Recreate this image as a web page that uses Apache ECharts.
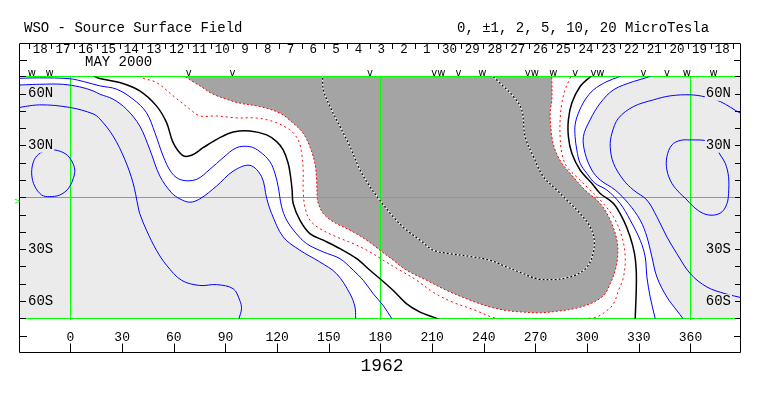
<!DOCTYPE html>
<html><head><meta charset="utf-8">
<script src="https://cdn.jsdelivr.net/npm/echarts@6.0.0/dist/echarts.min.js"></script>
<style>html,body{margin:0;padding:0;background:#fff}#c{width:763px;height:396px}</style>
</head><body><div id="c"></div>
<script>
// ---------- data (longitude, latitude) ----------
var lonTicks = [0,30,60,90,120,150,180,210,240,270,300,330,360];
var latLabelVals = [-60,-30,30,60];
var gridLon = [0,180,360];
var gridLat = [70,0,-70];
var dayLabels = ["18","17","16","15","14","13","12","11","10","9","8","7","6","5","4","3","2","1","30","29","28","27","26","25","24","23","22","21","20","19","18"];
var dayTickStart = -24.1, dayTickStep = 13.2;
var markerLon = [-22.4,-12.1,68.7,94.1,173.9,213.6,225.2,239.2,267.9,280.4,293.0,306.0,332.7,346.3,357.9,373.4];
var markerGlyph = ["w","w","v","v","v","vw","v","w","vw","w","v","vw","v","v","w","w"];

// +1 microtesla
var pos1Left = [[-31,68.9],[-17.9,69.2],[-0.4,68.7],[8.3,66.9],[17.0,64.6],[26.7,62.7],[36.3,56.9],[44.1,49.1],[49.0,37.5],[53.8,24.0],[58.7,14.3],[64.5,10.1],[73.2,10.5],[80.9,16.3],[88.6,23.0],[96.4,28.8],[104.2,29.4],[110.0,26.5],[115.8,20.7],[118.7,14.0],[120.6,6.2],[122.6,-5.4],[125.5,-13.1],[130.3,-19.9],[137.1,-26.7],[146.8,-31.5],[156.5,-35.4],[164.2,-42.1],[170.0,-47.9],[175.8,-55.7],[181.6,-62.5],[186.5,-70.0],[187.8,-72.3]];
var pos1Right = [[322.1,71.6],[318.2,69.7],[311.5,67.1],[303.7,62.3],[298.8,56.5],[294.9,48.8],[293.0,42.0],[293.0,35.2],[294.0,27.5],[295.9,19.8],[299.8,14.0],[304.6,8.2],[311.5,4.3],[319.2,-3.5],[325.0,-13.1],[330.8,-24.7],[333.7,-34.4],[334.7,-46.0],[336.6,-57.6],[339.5,-70.0],[340.1,-72.3]];
// +2
var pos2Left = [[-31,65.0],[-17.9,65.5],[-4.5,65.5],[5.4,64.0],[13.1,61.7],[17.0,59.8],[24.7,56.9],[32.5,51.1],[40.2,41.4],[46.0,27.9],[51.9,12.4],[58.7,2.7],[63.5,-0.8],[69.3,-2.7],[75.1,-0.8],[84.8,6.6],[94.5,15.3],[104.2,18.6],[111.0,12.0],[113.9,-0.4],[116.8,-9.3],[123.5,-22.8],[133.2,-30.5],[144.8,-37.3],[154.5,-44.1],[162.3,-55.7],[165.2,-63.4],[165.6,-70.0],[165.7,-72.3]];
var pos2Right = [[339.5,71.6],[335.6,69.7],[326.9,67.1],[315.3,62.3],[307.6,54.6],[301.7,44.9],[297.8,35.2],[298.8,25.6],[302.7,15.9],[307.6,10.1],[316.3,4.3],[324.0,-3.5],[330.8,-13.1],[334.7,-22.8],[337.6,-34.4],[340.5,-46.0],[346.3,-57.6],[352.1,-65.4],[355.6,-70.0],[357.0,-71.7]];
// +5
var pos5Left = [[-31,51.8],[-17.9,53.6],[-0.4,52.1],[13.1,48.4],[17.0,45.5],[24.7,35.6],[31.5,22.1],[36.3,8.5],[39.2,-5.0],[40.2,-9.3],[44.1,-18.9],[49.9,-30.5],[55.8,-39.2],[64.5,-47.9],[75.1,-50.9],[84.8,-50.4],[94.5,-52.8],[98.3,-59.6],[99.3,-64.4],[97.9,-70.0],[97.7,-72.3]];
var pos5Right = [[391.8,47.8],[388.9,48.8],[377.3,55.5],[368.6,58.2],[359.9,59.4],[348.2,58.8],[338.5,56.5],[326.9,52.6],[318.2,45.9],[314.4,37.2],[313.4,29.4],[315.3,19.8],[321.1,10.1],[326.9,4.3],[334.7,-1.5],[340.5,-11.2],[346.3,-22.8],[352.1,-32.5],[359.9,-44.1],[369.6,-51.8],[380.4,-55.7],[391.8,-58.4]];
// +10 (closed)
var pos10Left = [[-9.2,27.5],[-2.8,25.2],[0.7,21.1],[2.5,15.9],[1.3,10.1],[-1.6,4.8],[-6.3,1.4],[-12.1,0.5],[-16.7,1.4],[-20.8,6.6],[-22.5,13.0],[-21.9,19.4],[-19.6,24.0],[-15.0,26.9]];
var pos10Right = [[359.9,33.3],[369.6,32.7],[374.4,29.2],[377.3,24.6],[380.2,19.8],[382.1,12.0],[382.1,2.3],[381.2,-3.5],[378.3,-8.3],[373.4,-10.2],[367.6,-9.3],[361.8,-5.4],[357.0,-0.4],[354.0,2.3],[349.2,8.2],[346.3,15.9],[346.3,23.6],[349.2,30.4],[354.0,33.0]];
// 0 (neutral line)
var zeroLeft = [[12.9,71.6],[14.1,70.0],[17.0,68.8],[28.6,66.5],[40.2,61.7],[49.9,53.0],[55.8,43.3],[59.6,31.7],[65.1,24.4],[70.3,24.4],[77.0,28.8],[86.7,34.6],[94.5,37.9],[104.2,38.5],[113.9,36.2],[119.7,32.3],[123.5,27.5],[126.4,19.8],[127.8,12.0],[128.7,4.3],[129.3,-3.5],[133.2,-13.1],[139.0,-20.9],[146.8,-24.7],[156.5,-29.6],[166.2,-35.4],[173.9,-42.1],[179.7,-47.0],[187.4,-53.8],[195.2,-61.5],[203.0,-66.3],[210.7,-69.2],[212.7,-70.0],[214.6,-70.6]];
var zeroRight = [[304.1,71.6],[301.7,69.7],[295.9,64.2],[291.1,54.6],[289.1,44.9],[289.1,35.2],[291.1,25.6],[295.9,15.9],[302.7,8.2],[307.6,2.3],[315.3,-3.5],[321.1,-13.1],[325.0,-22.8],[327.5,-32.5],[328.5,-42.1],[328.5,-53.8],[327.9,-70.0],[327.9,-72.3]];
// -1
var neg1Left = [[40.2,71.0],[41.2,69.4],[49.9,66.5],[59.6,58.8],[69.3,51.1],[75.1,47.2],[84.8,47.2],[94.5,46.2],[98.3,46.0],[108.1,46.0],[117.7,43.9],[127.4,39.1],[132.2,33.3],[134.2,25.6],[135.1,15.9],[135.1,4.3],[136.1,-5.4],[139.0,-13.1],[144.8,-18.0],[154.5,-22.8],[164.2,-26.7],[173.9,-31.5],[181.6,-36.3],[191.3,-42.1],[201.0,-47.9],[210.7,-54.9],[222.3,-60.7],[233.9,-64.8],[243.6,-68.9],[247.7,-70.3],[248.9,-71.7]];
var neg1Right = [[298.8,-71.7],[300.0,-70.2],[305.6,-69.2],[311.5,-65.4],[315.3,-61.5],[318.2,-53.8],[321.1,-46.0],[322.1,-34.4],[320.2,-22.8],[315.3,-11.2],[307.6,-1.5],[301.7,4.3],[295.9,10.1],[288.2,17.8],[285.3,25.6],[284.3,35.2],[284.3,44.9],[285.3,54.6],[287.2,62.3],[290.1,69.1],[291.3,71.6]];
// -2 (edge of shaded negative region)
var neg2 = [[65.2,71.5],[66.4,70.0],[75.1,64.6],[82.8,59.8],[90.6,56.9],[98.3,54.6],[110.0,52.6],[121.6,48.8],[129.3,43.0],[135.1,37.2],[139.0,29.4],[141.9,19.8],[142.9,10.1],[143.3,-0.4],[143.9,-3.5],[146.8,-9.3],[152.6,-14.1],[162.3,-18.9],[172.0,-24.7],[179.7,-30.5],[187.4,-36.3],[195.2,-42.1],[206.8,-47.9],[218.5,-53.8],[233.9,-60.1],[243.6,-63.3],[253.3,-65.4],[263.0,-66.3],[272.7,-66.7],[282.4,-65.8],[292.0,-64.4],[301.7,-61.5],[309.5,-56.7],[313.4,-49.9],[316.3,-42.1],[317.7,-34.4],[317.3,-24.7],[313.4,-13.1],[307.6,-3.5],[298.8,4.3],[290.1,14.0],[285.3,19.8],[281.4,27.5],[279.5,35.2],[278.5,48.8],[279.5,56.5],[279.5,70.0],[279.5,71.6]];
// -5
var neg5 = [[146.3,71.6],[146.4,70.0],[146.8,62.3],[150.7,52.6],[156.5,41.0],[162.3,29.4],[168.1,15.9],[173.9,6.2],[178.7,-0.4],[187.4,-11.2],[195.2,-18.9],[203.0,-24.7],[210.7,-30.5],[220.4,-32.5],[233.9,-34.4],[243.6,-36.3],[253.3,-40.2],[263.0,-44.1],[270.8,-47.0],[280.4,-47.5],[288.2,-46.4],[294.0,-44.5],[299.8,-40.4],[303.2,-33.4],[304.1,-24.7],[301.7,-17.0],[295.9,-9.3],[288.2,-1.5],[282.4,4.3],[274.6,12.0],[268.8,23.6],[264.0,35.2],[262.0,50.7],[257.2,58.4],[249.4,66.2],[245.4,70.0],[244.2,71.6]];

// ---------- styling ----------
var MONO = '"Liberation Mono","DejaVu Sans Mono",monospace';
var LIGHT = '#ebebeb', DARK = '#a4a4a4', BLUE = '#0000ff', RED = '#ff0000', GREEN = '#00ff00';
var SMOOTH = 0.35;
var LON_MIN = -29.32, LON_MAX = 389.33, LAT_MIN = -70, LAT_MAX = 70;

function pathSeries(pts, closed, layers, z) {
  return {
    type: 'custom', coordinateSystem: 'cartesian2d', xAxisIndex: 0, yAxisIndex: 0,
    clip: true, silent: true, z: z, data: pts, animation: false,
    renderItem: function (params, api) {
      if (params.dataIndex !== 0) return null;
      var P = pts.map(function (p) { return api.coord(p); });
      return {
        type: 'group',
        children: layers.map(function (L) {
          return {
            type: closed ? 'polygon' : 'polyline',
            shape: { points: P, smooth: SMOOTH },
            style: { fill: L.fill || 'none', stroke: L.stroke || 'none', lineWidth: L.width || 1, lineDash: L.dash || null }
          };
        })
      };
    }
  };
}
// reference grid lines (green), drawn as 1px filled strips at the axis positions
function gridLineSeries(values, vertical) {
  return {
    type: 'custom', coordinateSystem: 'cartesian2d', xAxisIndex: 0, yAxisIndex: 0,
    silent: true, z: 2, animation: false,
    data: values.map(function (v) { return vertical ? [v, 0] : [0, v]; }),
    renderItem: function (params, api) {
      var v = values[params.dataIndex], a, b;
      if (vertical) {
        a = api.coord([v, LAT_MAX]); b = api.coord([v, LAT_MIN]);
        return { type: 'rect', shape: { x: Math.floor(a[0]), y: Math.round(a[1]), width: 1, height: Math.round(b[1] - a[1]) + 1 }, style: { fill: GREEN } };
      }
      a = api.coord([LON_MIN, v]); b = api.coord([LON_MAX, v]);
      return { type: 'rect', shape: { x: Math.round(a[0]), y: Math.floor(a[1]), width: Math.round(b[0] - a[0]), height: 1 }, style: { fill: GREEN } };
    }
  };
}
var solidBlue = [{ stroke: BLUE, width: 1 }];
var solidBlack = [{ stroke: '#000', width: 1.5 }];
var redDot = [{ stroke: RED, width: 1, dash: [2, 3] }];
var redEdge = [{ stroke: RED, width: 1, dash: [2, 2] }];
var bwDash = [{ stroke: '#fff', width: 1.2 }, { stroke: '#000', width: 1.2, dash: [2, 2] }];

var dayBounds = dayLabels.concat(['']).map(function (_, i) { return +(dayTickStart + i * dayTickStep).toFixed(2); });
var dayCenters = dayLabels.map(function (_, i) { return +((dayBounds[i] + dayBounds[i + 1]) / 2).toFixed(2); });

var lightLeftPoly = pos2Left.concat([[165.8, -80], [-40, -80], [-40, 65]]);
var lightRightPoly = pos2Right.concat([[357.5, -80], [400, -80], [400, 80], [339.5, 80]]);
var darkPoly = neg2.concat([[279.5, 80], [65.2, 80]]);

var latFmt = function (v) { return v > 0 ? v + 'N' : (-v) + 'S'; };
var hiddenLine = { show: false, onZero: false };

var chart = echarts.init(document.getElementById('c'), null, { renderer: 'canvas' });
var option = {
  animation: false,
  backgroundColor: '#fff',
  grid: { left: 20, top: 76.5, width: 721, height: 242, containLabel: false },
  xAxis: [
    { type: 'value', min: LON_MIN, max: LON_MAX, position: 'bottom', offset: 34, z: 10,
      axisLine: hiddenLine, splitLine: { show: false },
      axisTick: { show: true, inside: true, length: 9, customValues: lonTicks, lineStyle: { color: '#000' } },
      axisLabel: { show: true, inside: true, margin: 8, customValues: lonTicks, fontFamily: MONO, fontSize: 13, color: '#000' } },
    { type: 'value', min: LON_MIN, max: LON_MAX, position: 'top', offset: 33.5, z: 10,
      axisLine: hiddenLine, splitLine: { show: false },
      axisTick: { show: true, inside: true, length: 6, customValues: dayBounds, lineStyle: { color: '#000' } },
      axisLabel: { show: true, inside: true, margin: 0, customValues: dayCenters, fontFamily: MONO, fontSize: 12.5, color: '#000',
        formatter: function (v) {
          for (var i = 0; i < dayCenters.length; i++) if (Math.abs(dayCenters[i] - v) < 0.05) return dayLabels[i];
          return '';
        } } }
  ],
  yAxis: [
    { type: 'value', min: LAT_MIN, max: LAT_MAX, interval: 10, position: 'left', z: 10,
      axisLine: hiddenLine, splitLine: { show: false },
      axisTick: { show: true, inside: true, length: 6, lineStyle: { color: '#000' } },
      axisLabel: { inside: true, margin: 7, customValues: latLabelVals, formatter: latFmt, fontFamily: MONO, fontSize: 14, color: '#000', backgroundColor: LIGHT, padding: [0, 1, 0, 1] } },
    { type: 'value', min: LAT_MIN, max: LAT_MAX, interval: 10, position: 'right', z: 10,
      axisLine: hiddenLine, splitLine: { show: false },
      axisTick: { show: true, inside: true, length: 6, lineStyle: { color: '#000' } },
      axisLabel: { inside: true, margin: 9, customValues: latLabelVals, formatter: latFmt, fontFamily: MONO, fontSize: 14, color: '#000', backgroundColor: LIGHT, padding: [0, 1, 0, 1] } }
  ],
  series: [
    pathSeries(lightLeftPoly, true, [{ fill: LIGHT }], 1),
    pathSeries(lightRightPoly, true, [{ fill: LIGHT }], 1),
    pathSeries(darkPoly, true, [{ fill: DARK }], 1),
    gridLineSeries(gridLon, true),
    gridLineSeries(gridLat, false),
    pathSeries(pos1Left, false, solidBlue, 3),
    pathSeries(pos1Right, false, solidBlue, 3),
    pathSeries(pos2Left, false, solidBlue, 3),
    pathSeries(pos2Right, false, solidBlue, 3),
    pathSeries(pos5Left, false, solidBlue, 3),
    pathSeries(pos5Right, false, solidBlue, 3),
    pathSeries(pos10Left, true, solidBlue, 3),
    pathSeries(pos10Right, true, solidBlue, 3),
    pathSeries(zeroLeft, false, solidBlack, 3),
    pathSeries(zeroRight, false, solidBlack, 3),
    pathSeries(neg1Left, false, redDot, 3),
    pathSeries(neg1Right, false, redDot, 3),
    pathSeries(neg2, false, redEdge, 3),
    pathSeries(neg5, false, bwDash, 3)
  ]
};
chart.setOption(option);

var gfx = [
  { type: 'rect', z: 100, silent: true, shape: { x: 19.5, y: 43.5, width: 721, height: 309 }, style: { fill: 'none', stroke: '#000', lineWidth: 1 } },
  { type: 'line', z: 100, silent: true, shape: { x1: 20, y1: 60.5, x2: 27, y2: 60.5 }, style: { stroke: '#000', lineWidth: 1 } },
  { type: 'line', z: 100, silent: true, shape: { x1: 734, y1: 60.5, x2: 741, y2: 60.5 }, style: { stroke: '#000', lineWidth: 1 } },
  { type: 'line', z: 100, silent: true, shape: { x1: 20, y1: 336.5, x2: 27, y2: 336.5 }, style: { stroke: '#000', lineWidth: 1 } },
  { type: 'line', z: 100, silent: true, shape: { x1: 734, y1: 336.5, x2: 741, y2: 336.5 }, style: { stroke: '#000', lineWidth: 1 } },
  { type: 'text', z: 100, silent: true, x: 24, y: 28.5, style: { text: 'WSO - Source Surface Field', font: '14px ' + MONO, fill: '#000', align: 'left', verticalAlign: 'middle', textAlign: 'left', textVerticalAlign: 'middle' } },
  { type: 'text', z: 100, silent: true, x: 457, y: 28.5, style: { text: '0, \u00b11, 2, 5, 10, 20 MicroTesla', font: '14px ' + MONO, fill: '#000', align: 'left', verticalAlign: 'middle', textAlign: 'left', textVerticalAlign: 'middle' } },
  { type: 'text', z: 100, silent: true, x: 85, y: 62.5, style: { text: 'MAY 2000', font: '14px ' + MONO, fill: '#000', align: 'left', verticalAlign: 'middle', textAlign: 'left', textVerticalAlign: 'middle' } },
  { type: 'text', z: 100, silent: true, x: 382, y: 366, style: { text: '1962', font: '18px ' + MONO, fill: '#000', align: 'center', verticalAlign: 'middle', textAlign: 'center', textVerticalAlign: 'middle' } },
  { type: 'text', z: 100, silent: true, x: 14, y: 202, style: { text: '>', font: '8px "DejaVu Sans"', fill: GREEN, align: 'left', verticalAlign: 'middle', textAlign: 'left', textVerticalAlign: 'middle' } }
];
markerLon.forEach(function (lon, i) {
  var px = chart.convertToPixel({ xAxisIndex: 0 }, lon);
  gfx.push({ type: 'text', z: 100, silent: true, x: px, y: 73.5,
    style: { text: markerGlyph[i], font: '10px "DejaVu Sans"', fill: '#000', align: 'center', verticalAlign: 'middle', textAlign: 'center', textVerticalAlign: 'middle' } });
});
chart.setOption({ graphic: gfx });
</script></body></html>
